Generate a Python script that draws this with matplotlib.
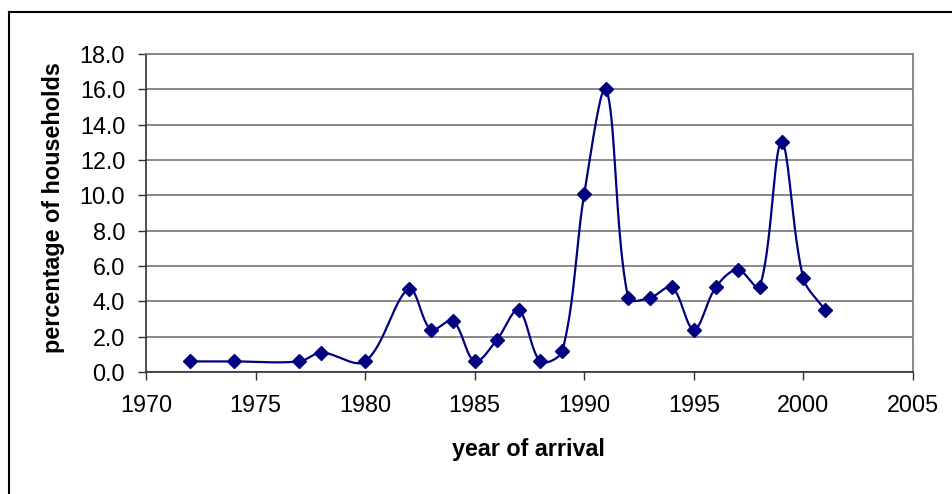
import numpy as np
import matplotlib
matplotlib.use("Agg")
import matplotlib.pyplot as plt
from matplotlib.lines import Line2D

years = [1972, 1974, 1977, 1978, 1980, 1982, 1983, 1984, 1985, 1986, 1987, 1988,
         1989, 1990, 1991, 1992, 1993, 1994, 1995, 1996, 1997, 1998, 1999, 2000, 2001]
pct = [0.6, 0.6, 0.6, 1.1, 0.6, 4.7, 2.4, 2.9, 0.6, 1.8, 3.5, 0.6,
       1.2, 10.1, 16.0, 4.2, 4.2, 4.8, 2.4, 4.8, 5.8, 4.8, 13.0, 5.3, 3.5]
x_ticks = [1970, 1975, 1980, 1985, 1990, 1995, 2000, 2005]
y_ticks = [0, 2, 4, 6, 8, 10, 12, 14, 16, 18]

plt.rcParams['font.family'] = ['Liberation Sans', 'DejaVu Sans']

W, H = 952, 494
fig = plt.figure(figsize=(W / 100, H / 100), dpi=100)
ax = fig.add_axes([146 / W, 1 - 372 / H, (913 - 146) / W, (372 - 54) / H])
ax.set_xlim(1970, 2005)
ax.set_ylim(0, 18)


# Excel-like smoothed line: Bezier through the points, computed in screen space,
# with control-point lengths weighted by the adjacent segment lengths.
def smooth(xs, ys, n=40):
    P = ax.transData.transform(np.column_stack([xs, ys]).astype(float))
    m = len(P)
    cout = np.zeros_like(P)
    cin = np.zeros_like(P)
    for i in range(m):
        prev = P[i - 1] if i > 0 else P[i]
        nxt = P[i + 1] if i < m - 1 else P[i]
        d = nxt - prev
        a = np.hypot(*(P[i] - prev))
        b = np.hypot(*(nxt - P[i]))
        tot = a + b if a + b > 0 else 1.0
        cout[i] = P[i] + d * (b / tot) / 3
        cin[i] = P[i] - d * (a / tot) / 3
    t = np.linspace(0, 1, n)[:, None]
    out = []
    for i in range(m - 1):
        p1, c1, c2, p2 = P[i], cout[i], cin[i + 1], P[i + 1]
        seg = ((1 - t) ** 3) * p1 + 3 * ((1 - t) ** 2) * t * c1 + 3 * (1 - t) * t ** 2 * c2 + t ** 3 * p2
        out.append(seg if i == 0 else seg[1:])
    s = ax.transData.inverted().transform(np.vstack(out))
    return s[:, 0], s[:, 1]


sx, sy = smooth(years, pct)
navy = '#000080'
ax.plot(sx, sy, color=navy, lw=1.6, zorder=3, clip_on=False)
ax.plot(years, pct, ls='none', marker='D', ms=7.2, color=navy, zorder=4, clip_on=False)

ax.set_xticks(x_ticks)
ax.set_yticks(y_ticks)
ax.set_yticklabels([f"{v:.1f}" for v in y_ticks])
ax.yaxis.grid(True, color='#808080', lw=1.3)
ax.set_axisbelow(True)

for s in ['top', 'right']:
    ax.spines[s].set_color('#808080')
    ax.spines[s].set_linewidth(1.3)
for s in ['left', 'bottom']:
    ax.spines[s].set_color('#303030')
    ax.spines[s].set_linewidth(1.2)

ax.tick_params(axis='both', direction='out', length=6, width=1.0, color='#303030',
               labelsize=16.8, labelcolor='black')
ax.tick_params(axis='y', pad=9)
ax.tick_params(axis='x', pad=10)

ax.set_xlabel('year of arrival', fontsize=16.8, fontweight='bold', va='center')
ax.xaxis.set_label_coords(0.4987, -0.245)
ax.set_ylabel('percentage of households', fontsize=16.8, fontweight='bold', va='center')
ax.yaxis.set_label_coords(-0.12, 0.517)

# outer chart border (partly cropped in the reference)
fig.add_artist(Line2D([9 / W, 1.0], [1 - 12 / H, 1 - 12 / H], transform=fig.transFigure,
                      color='black', lw=1.5))
fig.add_artist(Line2D([9 / W, 9 / W], [0.0, 1 - 12 / H], transform=fig.transFigure,
                      color='black', lw=1.5))

fig.savefig('out.png', dpi=100, facecolor='white')
